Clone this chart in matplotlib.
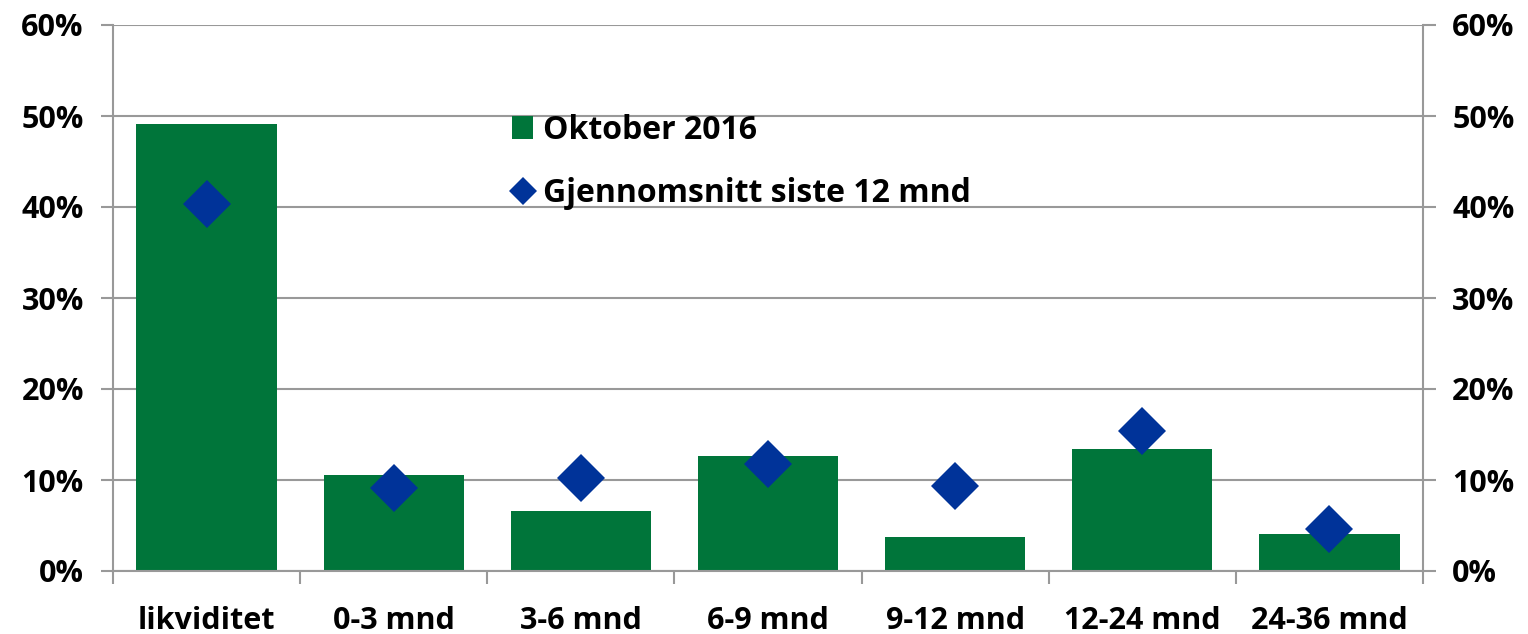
import matplotlib.pyplot as plt
import matplotlib.ticker as mticker
import numpy as np

categories = ['likviditet', '0-3 mnd', '3-6 mnd', '6-9 mnd', '9-12 mnd', '12-24 mnd', '24-36 mnd']
oktober_2016 = [49.1, 10.5, 6.6, 12.6, 3.7, 13.4, 4.1]
snitt_12mnd = [40.3, 9.1, 10.2, 11.8, 9.3, 15.4, 4.6]

green = '#00753a'
blue = '#003399'
grid = '#999999'

plt.rcParams['font.family'] = ['Open Sans', 'DejaVu Sans']
plt.rcParams['font.weight'] = 'bold'
fs = 22

fig = plt.figure(figsize=(15.28, 6.34), dpi=100)
ax = fig.add_axes([113 / 1528, 1 - 571 / 634, 1310 / 1528, 546 / 634])

x = np.arange(len(categories))
bars = ax.bar(x, oktober_2016, width=0.75, color=green, zorder=2, label='Oktober 2016')
dots, = ax.plot(x, snitt_12mnd, linestyle='none', marker='D', markersize=24,
                color=blue, markeredgewidth=0, zorder=3, label='Gjennomsnitt siste 12 mnd')

ax.set_xlim(-0.5, len(categories) - 0.5)
ax.set_ylim(0, 60)
ax.yaxis.set_major_locator(mticker.MultipleLocator(10))
ax.yaxis.set_major_formatter(mticker.FuncFormatter(lambda v, p: '{:.0f}%'.format(v)))
ax.grid(axis='y', color=grid, linewidth=1.5, zorder=0)

ax.set_xticks(x)
ax.set_xticklabels(categories)
ax.set_xticks(np.arange(-0.5, len(categories)), minor=True)
ax.tick_params(axis='x', which='major', length=0, pad=25, labelsize=fs)
ax.tick_params(axis='x', which='minor', length=9, width=1.5, color=grid)
ax.tick_params(axis='y', length=9, width=1.5, color=grid, labelsize=fs, pad=12,
               left=True, right=True, labelleft=True, labelright=True)
for lab in ax.get_xticklabels() + ax.get_yticklabels():
    lab.set_fontweight('bold')
for t in ax.yaxis.get_major_ticks():
    t.label2.set_fontweight('bold')

ax.spines['top'].set_visible(False)
for side in ['left', 'right', 'bottom']:
    ax.spines[side].set_color(grid)
    ax.spines[side].set_linewidth(1.5)

leg = ax.legend(handles=[bars, dots], loc='upper left', bbox_to_anchor=(0.283, 0.89),
                frameon=False, handlelength=0.65, handletextpad=0.3,
                labelspacing=0.95, markerscale=0.6, prop={'weight': 'bold', 'size': 23})

fig.savefig('out.png', dpi=100)
